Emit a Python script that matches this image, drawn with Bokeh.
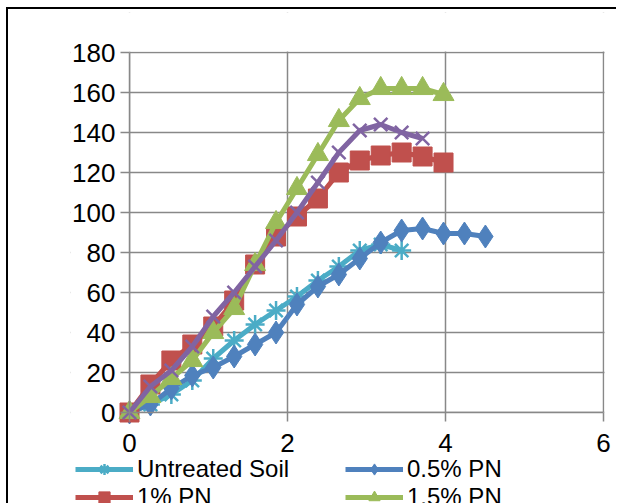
from bokeh.plotting import figure
from bokeh.models import Range1d, FixedTicker, Legend, LegendItem, BoxAnnotation
from bokeh.embed import file_html
from bokeh.resources import INLINE

strain = [0, 0.265, 0.53, 0.795, 1.06, 1.325, 1.59, 1.855, 2.12, 2.385,
          2.65, 2.915, 3.18, 3.445, 3.71, 3.975, 4.24, 4.505]
untreated = [0, 4, 9, 16, 27, 36, 44, 51, 58, 66, 73, 81, 84, 81]
pn05 = [0, 4, 12, 18.5, 22.5, 28, 34, 40, 54, 63, 69, 77, 85, 91, 92, 89.5, 89.5, 88]
pn1 = [0, 14, 26, 34, 43, 56, 74, 88, 98, 107, 120, 126, 128.5, 130, 128, 125]
pn15 = [0, 8, 17, 26, 40, 52, 74, 95, 112, 129, 146, 157, 162, 162, 162, 159]
pn2 = [0, 13, 21, 33, 48, 60, 73, 86, 100, 115, 130, 141, 144, 140, 137]

labels = ["Untreated Soil", "0.5% PN", "1% PN", "1.5% PN", "2% PN"]
series = [untreated, pn05, pn1, pn15, pn2]
colors = ["#4BACC6", "#4F81BD", "#C0504D", "#9BBB59", "#8064A2"]
markers = ["asterisk", "diamond", "square", "triangle", "x"]
msizes = [19, 23, 19, 21, 19]

x_ticks = [0, 2, 4, 6]
y_ticks = [0, 20, 40, 60, 80, 100, 120, 140, 160, 180]

# layout plan (pixels): 79 px per x unit, 2 px per y unit
PXX, PXY = 79.0, 2.0
B_LEFT, B_RIGHT, B_TOP, B_BOTTOM = 62, 0, 3, 60
FRAME_W = 610 - B_LEFT - B_RIGHT
X0 = -(129 - 8 - B_LEFT) / PXX          # frame extends left of x=0 to hold the legend
X1 = X0 + FRAME_W / PXX                 # ... and right of x=6 for the "6" label
Y1 = 200.0                              # ... above 180 for the "180" label
Y0 = -70.0                              # ... below y=0 to hold the legend
FRAME_H = int(round((Y1 - Y0) * PXY))

p = figure(width=B_LEFT + FRAME_W + B_RIGHT, height=B_TOP + FRAME_H + B_BOTTOM,
           output_backend="svg", toolbar_location=None,
           x_range=Range1d(X0, X1), y_range=Range1d(Y0, Y1))
p.min_border_left = B_LEFT
p.min_border_right = B_RIGHT
p.min_border_top = B_TOP
p.min_border_bottom = B_BOTTOM
p.background_fill_color = "white"
p.border_fill_color = "white"
p.outline_line_color = None
p.styles = {"border-left": "2px solid black", "border-top": "2px solid black",
            "margin-left": "6px", "margin-top": "7px"}

grid_col = "#888888"
p.xgrid.ticker = FixedTicker(ticks=x_ticks)
p.ygrid.ticker = FixedTicker(ticks=y_ticks)
for g in (p.xgrid, p.ygrid):
    g.grid_line_color = grid_col
    g.grid_line_width = 1.5

# white covers hide the grid outside the 0..6 x 0..180 plot area
cover = dict(fill_color="white", fill_alpha=1, line_color=None, level="underlay")
p.add_layout(BoxAnnotation(right=0, **cover))
p.add_layout(BoxAnnotation(top=0, **cover))
p.add_layout(BoxAnnotation(left=6 + 1.0 / PXX, **cover))
p.add_layout(BoxAnnotation(bottom=180 + 1.0 / PXY, **cover))

for ax, ticks in ((p.xaxis, x_ticks), (p.yaxis, y_ticks)):
    ax.ticker = FixedTicker(ticks=ticks)
    ax.fixed_location = 0
    ax.axis_line_color = grid_col
    ax.axis_line_width = 1.5
    ax.major_tick_line_color = grid_col
    ax.major_tick_line_width = 1.5
    ax.major_tick_in = 0
    ax.major_tick_out = 9
    ax.minor_tick_line_color = None
    ax.major_label_text_font = "Liberation Sans"
    ax.major_label_text_font_size = "26px"
    ax.major_label_text_color = "black"
p.xaxis.bounds = (0, 6)
p.yaxis.bounds = (0, 180)
p.yaxis.major_label_standoff = 5
p.xaxis.major_label_standoff = 12

items = []
for lab, ys, col, mk, ms in zip(labels, series, colors, markers, msizes):
    xs = strain[:len(ys)]
    r1 = p.line(xs, ys, line_color=col, line_width=5)
    r2 = p.scatter(xs, ys, marker=mk, size=ms, fill_color=col, line_color=col,
                   line_width=2.5 if mk in ("asterisk", "x") else 1)
    items.append(LegendItem(label=lab, renderers=[r1, r2]))

GLYPH_H = 28
LEG_TOP = 455                 # first row centre ~469
LEG_H = 3 * GLYPH_H
legend = Legend(items=items,
                location=(75 - (8 + B_LEFT), (B_TOP + 9 + FRAME_H) - LEG_TOP - LEG_H),
                orientation="horizontal", ncols=2,
                glyph_width=58, glyph_height=GLYPH_H, label_standoff=4,
                label_width=208, label_height=24, spacing=0,
                padding=0, margin=0,
                border_line_color=None, background_fill_alpha=0,
                label_text_font="Liberation Sans", label_text_font_size="24px",
                label_text_color="black")
p.add_layout(legend, "center")

open("out.html", "w").write(file_html(p, INLINE))
